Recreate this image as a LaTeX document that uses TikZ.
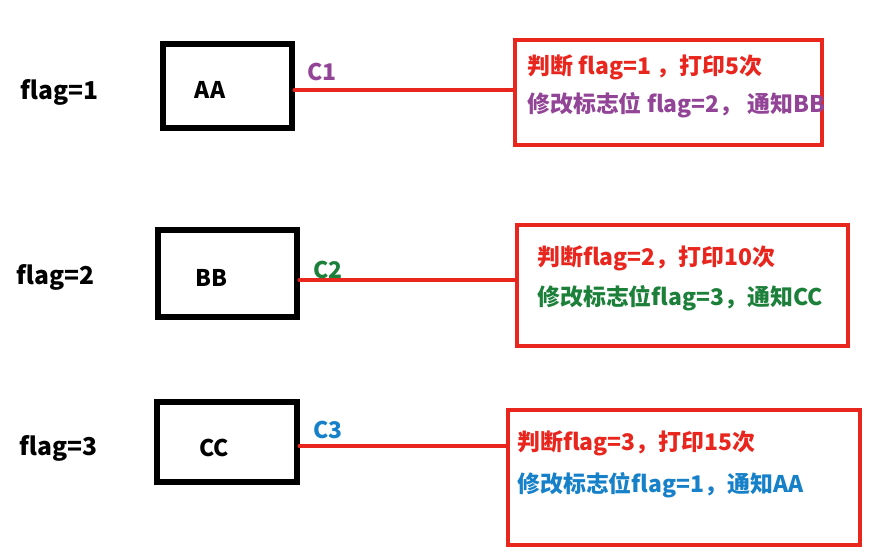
\documentclass[tikz,border=0pt]{standalone}
\usepackage{fontspec}
\setmainfont{Noto Sans CJK SC}
\usetikzlibrary{positioning,calc}
\definecolor{linered}{RGB}{232,38,30}
\definecolor{notepurple}{RGB}{146,68,150}
\definecolor{notegreen}{RGB}{28,128,58}
\definecolor{noteblue}{RGB}{22,128,200}

\begin{document}
\begin{tikzpicture}[x=0.025cm, y=-0.025cm,
  font=\fontsize{16.3}{19}\selectfont\bfseries,
  thread/.style={draw, line width=3.6pt, inner sep=0pt},
  note/.style={draw=linered, line width=3.4pt, inner sep=0pt},
  link/.style={draw=linered, line width=3pt, line cap=round},
  txt/.style={inner sep=0pt, anchor=west}]

\useasboundingbox (0,0) rectangle (879,558);

% the three threads and the flag value each waits for
\node[txt, font=\fontsize{17.5}{20}\selectfont\bfseries] (f1) at (20,92)  {flag=1};
\node[txt, font=\fontsize{17.5}{20}\selectfont\bfseries] (f2) at (16,277) {flag=2};
\node[txt, font=\fontsize{17.5}{20}\selectfont\bfseries] (f3) at (19,448) {flag=3};

\node[thread, minimum width=3.225cm, minimum height=2.1cm]   (aa) at (227.5,86)  {};
\node[thread, minimum width=3.475cm, minimum height=2.175cm] (bb) at (227.5,273.5) {};
\node[thread, minimum width=3.5cm,   minimum height=2.0cm]   (cc) at (227,442)   {};
\node (aalbl) at (210,90)  {AA};
\node (bblbl) at (211,278) {BB};
\node (cclbl) at (214,448) {CC};

% what each condition does when it is signalled
\node[note, minimum width=7.675cm, minimum height=2.625cm] (n1) at (668.5,92.5) {};
\node[note, minimum width=8.275cm, minimum height=3.025cm] (n2) at (682.5,285.5) {};
\node[note, minimum width=8.8cm,   minimum height=3.375cm] (n3) at (684,477.5) {};

\node[txt, text=linered]    (n1a) at (527,67)  {判断 flag=1 ，打印5次};
\node[txt, text=notepurple] (n1b) at (527,105) {修改标志位 flag=2， 通知BB};
\node[txt, text=linered]    (n2a) at (537,258) {判断flag=2，打印10次};
\node[txt, text=notegreen]  (n2b) at (537,298) {修改标志位flag=3，通知CC};
\node[txt, text=linered]    (n3a) at (517,443) {判断flag=3，打印15次};
\node[txt, text=noteblue]   (n3b) at (517,485) {修改标志位flag=1，通知AA};

% lines leave the boxes a little below their middle
\coordinate (l1) at ($(aa.east)+(0,4)$);
\coordinate (l2) at ($(bb.east)+(0,6.5)$);
\coordinate (l3) at ($(cc.east)+(0,4)$);
\draw[link] (l1) -- (l1 -| n1.west);
\draw[link] (l2) -- (l2 -| n2.west);
\draw[link] (l3) -- (l3 -| n3.west);

\node[text=notepurple] (c1) at (322,72)  {C1};
\node[text=notegreen]  (c2) at (328,270) {C2};
\node[text=noteblue]   (c3) at (328,430) {C3};
\end{tikzpicture}
\end{document}
